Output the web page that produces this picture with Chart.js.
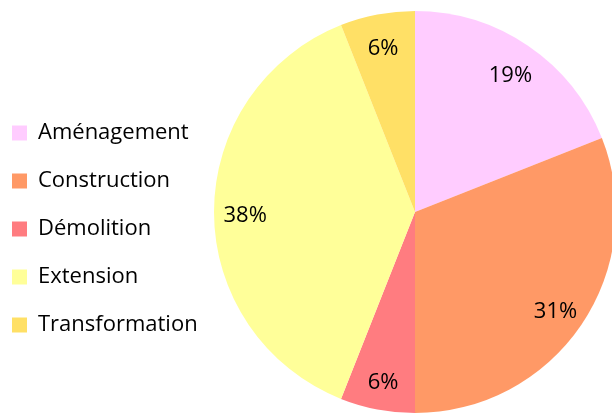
<!DOCTYPE html>
<html>
<head>
<meta charset="utf-8">
<script src="https://cdn.jsdelivr.net/npm/chart.js@4"></script>
<style>
  html, body { margin: 0; padding: 0; background: #fff; overflow: hidden; }
  canvas { display: block; }
</style>
</head>
<body>
<canvas id="pieChart" width="616" height="414"></canvas>
<script>
// ==========================================
// Data
// ==========================================

const categories = ['Aménagement', 'Construction', 'Démolition', 'Extension', 'Transformation'];
const shares = [19, 31, 6, 38, 6]; // percent
const sliceColors = ['#FFCCFF', '#FF9966', '#FF7C80', '#FFFF99', '#FFE066'];

const labelFont = '"Open Sans", "Noto Sans", sans-serif';

// ==========================================
// Plugins
// ==========================================

// fixes the legend column width and nudges it to where the original sits
const legendPlacement = {
    id: 'legendPlacement',
    beforeInit(chart) {
        const origFit = chart.legend.fit;
        chart.legend.fit = function () {
            origFit.call(this);
            this.width = 214;
        };
    },
    afterLayout(chart) {
        const lg = chart.legend;
        lg.left -= 14;
        lg.right -= 14;
        lg.top += 17;
        lg.bottom += 17;
    }
};

// percentage text inside each slice
const sliceLabels = {
    id: 'sliceLabels',
    afterDatasetsDraw(chart) {
        const ctx = chart.ctx;
        const meta = chart.getDatasetMeta(0);
        ctx.save();
        ctx.fillStyle = '#000';
        ctx.font = '22px ' + labelFont;
        ctx.textAlign = 'center';
        ctx.textBaseline = 'middle';
        meta.data.forEach(function (arc, i) {
            const p = arc.getProps(['x', 'y', 'startAngle', 'endAngle', 'outerRadius'], true);
            const mid = (p.startAngle + p.endAngle) / 2;
            const r = p.outerRadius * 0.845;
            ctx.fillText(shares[i] + '%', p.x + Math.cos(mid) * r, p.y + Math.sin(mid) * r + 4);
        });
        ctx.restore();
    }
};

// ==========================================
// Chart
// ==========================================

new Chart(document.getElementById('pieChart'), {
    type: 'pie',
    data: {
        labels: categories,
        datasets: [{
            data: shares,
            backgroundColor: sliceColors,
            borderWidth: 0
        }]
    },
    options: {
        responsive: false,
        animation: false,
        layout: {
            padding: { top: 11, bottom: 1, left: 0, right: 0 }
        },
        plugins: {
            legend: {
                position: 'left',
                align: 'center',
                labels: {
                    boxWidth: 15,
                    boxHeight: 15,
                    padding: 26,
                    color: '#000',
                    font: { family: labelFont, size: 22 }
                }
            },
            tooltip: { enabled: false }
        }
    },
    plugins: [legendPlacement, sliceLabels]
});
</script>
</body>
</html>
